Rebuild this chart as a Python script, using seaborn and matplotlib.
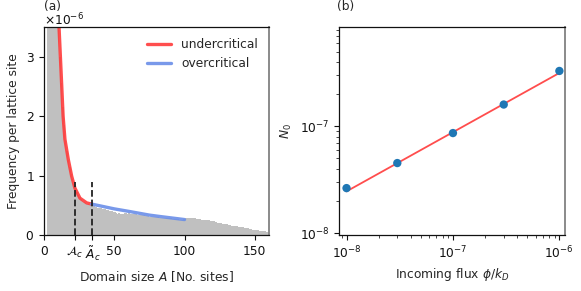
import numpy as np
import pandas as pd
import matplotlib
matplotlib.use("Agg")
import matplotlib.pyplot as plt
import matplotlib.transforms as mtransforms
import seaborn as sns

sns.set_style("ticks")
plt.rcParams['font.family'] = ['DejaVu Sans']
plt.rcParams['axes.formatter.use_mathtext'] = True
FS = 8.8
plt.rcParams['font.size'] = FS

# (a) histogram of domain sizes, bins of width 1 starting at A = 2 (units of 1e-6)
hist_start = 2
hist_heights = [
    9.0, 8.0, 7.2, 6.5, 5.8, 5.1, 4.5, 4.0,
    3.55, 3.0, 2.55, 2.15, 1.85, 1.6, 1.42, 1.27, 1.14, 1.03,
    0.94, 0.86, 0.79, 0.73, 0.68, 0.64, 0.61, 0.58, 0.56, 0.54,
    0.53, 0.52, 0.51, 0.50, 0.49, 0.48, 0.47, 0.47, 0.46, 0.46,
    0.45, 0.44, 0.44, 0.43, 0.42, 0.42, 0.41, 0.40, 0.40, 0.39,
    0.38, 0.37, 0.36, 0.37, 0.36, 0.35, 0.36, 0.37, 0.37, 0.36,
    0.37, 0.36, 0.36, 0.35, 0.35, 0.35, 0.34, 0.34, 0.34, 0.33,
    0.33, 0.33, 0.32, 0.32, 0.32, 0.31, 0.31, 0.31, 0.30, 0.30,
    0.30, 0.30, 0.29, 0.29, 0.29, 0.29, 0.28, 0.28, 0.28, 0.28,
    0.28, 0.27, 0.27, 0.27, 0.27, 0.27, 0.26, 0.26, 0.26, 0.27,
    0.28, 0.29, 0.29, 0.29, 0.28, 0.28, 0.28, 0.28, 0.27, 0.27,
    0.27, 0.27, 0.26, 0.26, 0.26, 0.25, 0.25, 0.25, 0.24, 0.24,
    0.23, 0.23, 0.22, 0.21, 0.21, 0.20, 0.20, 0.19, 0.19, 0.18,
    0.18, 0.17, 0.17, 0.16, 0.16, 0.16, 0.15, 0.15, 0.14, 0.14,
    0.13, 0.13, 0.12, 0.12, 0.11, 0.11, 0.10, 0.10, 0.09, 0.09,
    0.085, 0.08, 0.08, 0.07, 0.07, 0.065, 0.06, 0.06, 0.055, 0.05,
]
under_A = [10.0, 10.7, 12.1, 13.6, 14.9, 17.3, 19.7, 22.0, 25.6, 30.4, 33.9]
under_f = [4.3, 3.5, 2.78, 2.0, 1.61, 1.27, 0.99, 0.79, 0.62, 0.54, 0.52]
over_A = [33.9, 40, 50, 61, 75, 83, 100]
over_f = [0.52, 0.49, 0.44, 0.395, 0.335, 0.31, 0.26]
A_c = 22.0
A_c_tilde = 34.5
dash_top = 0.9

# (b) N0 vs incoming flux
flux = [1e-8, 3e-8, 1e-7, 3e-7, 1e-6]
N0 = [2.64e-8, 4.53e-8, 8.65e-8, 1.6e-7, 3.3e-7]
fit_flux = [1e-8, 1e-6]
fit_N0 = [2.46e-8, 3.16e-7]

sc = 1e-6
bins_left = np.arange(hist_start, hist_start + len(hist_heights))
hist_df = pd.DataFrame({'A': bins_left + 0.5, 'w': np.array(hist_heights) * sc})
hist_end = hist_start + len(hist_heights)

fig = plt.figure(figsize=(5.81, 2.91), dpi=100)
ax1 = fig.add_axes([0.0757, 0.1924, 0.387, 0.715])
ax2 = fig.add_axes([0.5835, 0.1940, 0.389, 0.713])

sns.histplot(data=hist_df, x='A', weights='w', binwidth=1,
             binrange=(hist_start, hist_end),
             color='#c0c0c0', alpha=1, linewidth=0, ax=ax1)
sns.lineplot(x=under_A, y=np.array(under_f) * sc, color='#ff3b3b', alpha=0.9,
             lw=2.4, label='undercritical', ax=ax1, sort=False)
sns.lineplot(x=over_A, y=np.array(over_f) * sc, color='#6a8ee8', alpha=0.9,
             lw=2.4, label='overcritical', ax=ax1, sort=False)
ax1.vlines([A_c, A_c_tilde], 0, dash_top * sc, colors='#222222',
           linestyles='--', lw=1.3)
ax1.set_xlim(0, 160)
ax1.set_ylim(0, 3.5e-6)
ax1.set_xticks([0, A_c, A_c_tilde, 50, 100, 150])
ax1.set_xticklabels(['0', r'$\mathcal{A}_c$', r'$\tilde{A}_c$', '50', '100', '150'])
ax1.set_yticks([0, 1e-6, 2e-6, 3e-6])
ax1.ticklabel_format(axis='y', style='sci', scilimits=(0, 0), useMathText=True)
off = ax1.yaxis.get_offset_text()
off.set_fontsize(FS)
off.set_transform(off.get_transform() +
                  mtransforms.ScaledTranslation(0, -0.03, fig.dpi_scale_trans))
ax1.set_xlabel('Domain size $A$ [No. sites]', fontsize=FS)
ax1.set_ylabel('Frequency per lattice site', fontsize=FS)
ax1.legend(loc='upper right', frameon=False, fontsize=FS)

sns.lineplot(x=fit_flux, y=fit_N0, color='#ff4d4d', lw=1.3, ax=ax2)
sns.scatterplot(x=flux, y=N0, color='#1f77b4', s=36, edgecolor='none',
                zorder=3, ax=ax2)
ax2.set_xscale('log')
ax2.set_yscale('log')
ax2.set_xlim(8.5e-9, 1.13e-6)
ax2.set_ylim(9.7e-9, 8.5e-7)
ax2.set_xlabel(r'Incoming flux $\phi/k_D$', fontsize=FS)
ax2.set_ylabel(r'$N_0$', fontsize=FS)

for ax in (ax1, ax2):
    for s in ax.spines.values():
        s.set_color('#111111')
        s.set_linewidth(0.9)
    ax.spines['right'].set_color('#8a8a8a')
    ax.spines['right'].set_linewidth(1.4)
    ax.tick_params(labelsize=FS, color='#111111', labelcolor='#111111')

fig.text(0.0757, 0.978, '(a)', fontsize=FS, va='center', ha='left')
fig.text(0.580, 0.976, '(b)', fontsize=FS, va='center', ha='left')

fig.savefig('out.png', dpi=100)
